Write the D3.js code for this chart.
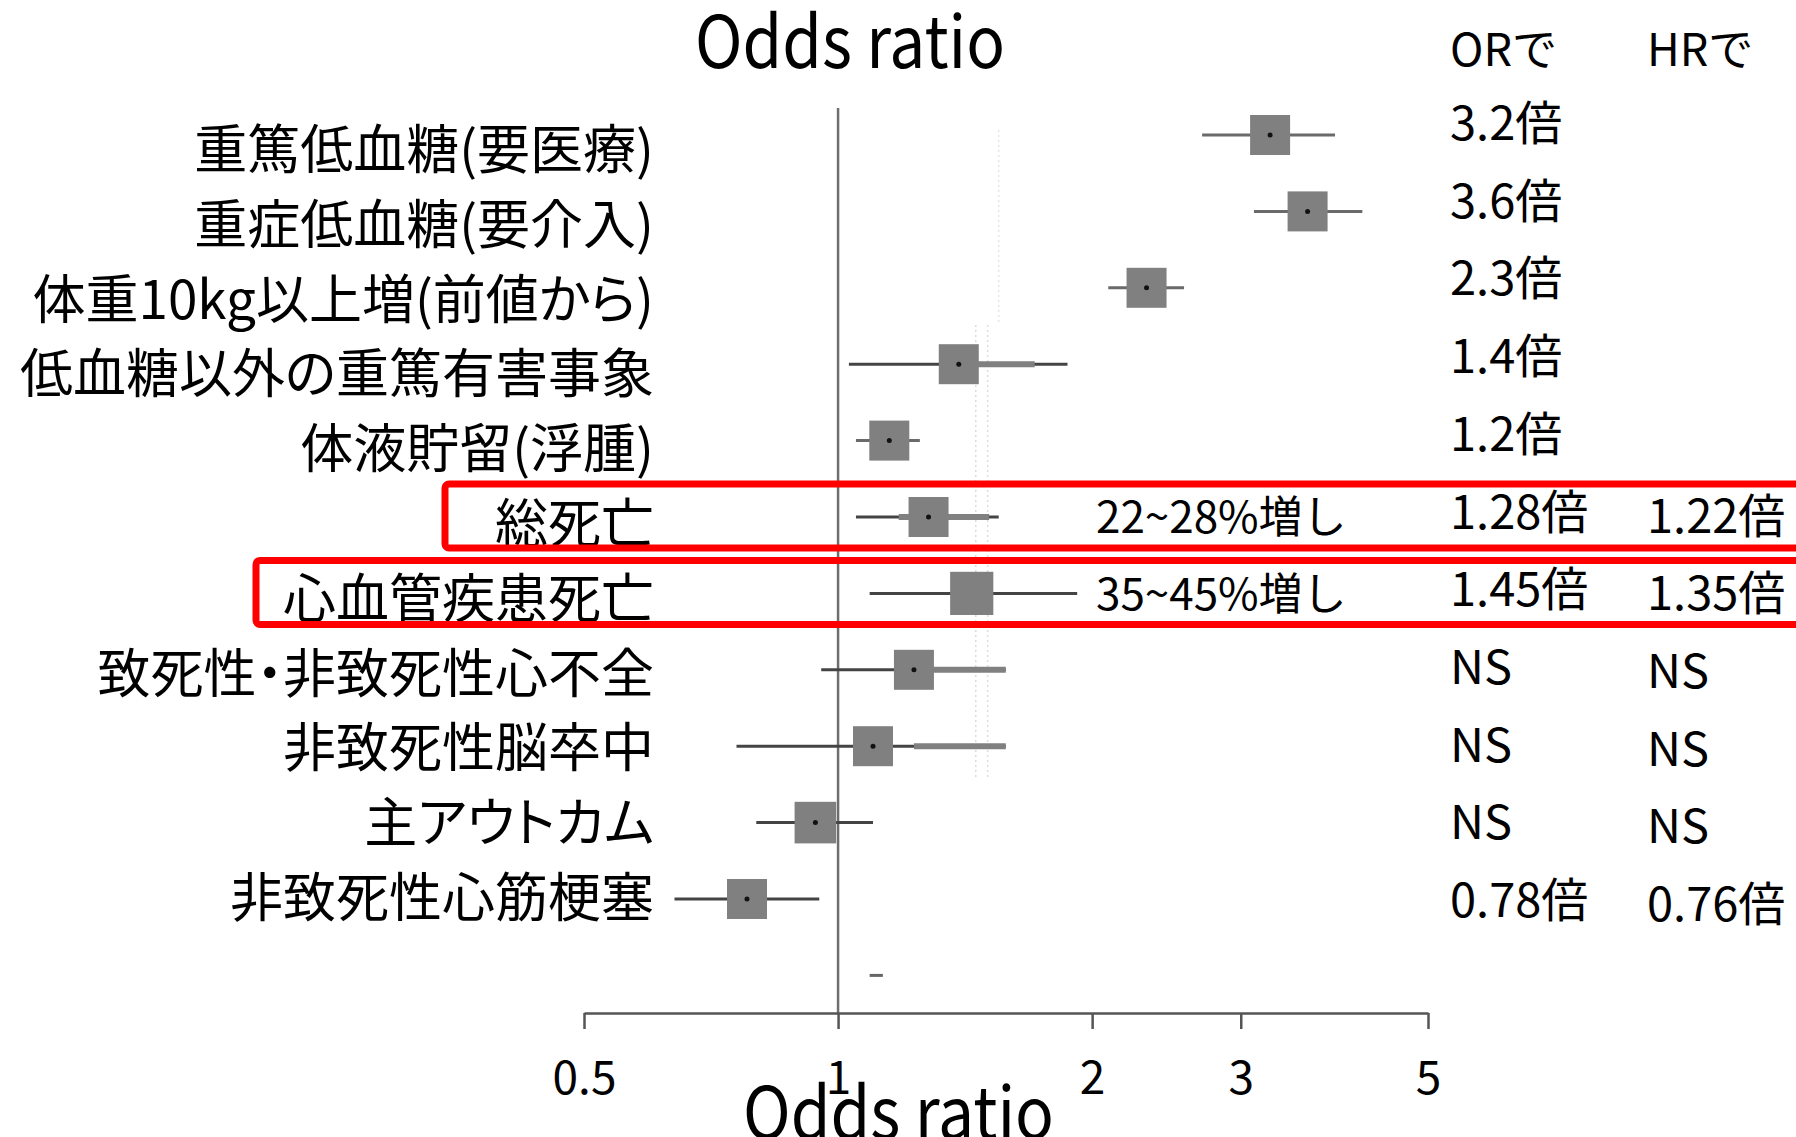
<!DOCTYPE html>
<html><head><meta charset="utf-8">
<script src="https://cdn.jsdelivr.net/npm/d3@7"></script>
<style>
html,body{margin:0;padding:0;background:#fff;}
svg{display:block;}
text{font-family:"Noto Sans CJK JP","Noto Sans",sans-serif;fill:#000;}
</style></head><body>
<svg id="chart" width="1796" height="1137"></svg>
<script>
// ---- data ----
const labels = ["重篤低血糖(要医療)","重症低血糖(要介入)","体重10kg以上増(前値から)","低血糖以外の重篤有害事象","体液貯留(浮腫)","総死亡","心血管疾患死亡","致死性・非致死性心不全","非致死性脳卒中","主アウトカム","非致死性心筋梗塞"];
const estimate = [3.25, 3.60, 2.32, 1.39, 1.15, 1.28, 1.44, 1.23, 1.10, 0.94, 0.78];
const lower    = [2.70, 3.11, 2.09, 1.03, 1.05, 1.05, 1.09, 0.955, 0.758, 0.80, 0.64];
const upper    = [3.88, 4.18, 2.57, 1.87, 1.25, 1.55, 1.92, 1.58, 1.58, 1.10, 0.95];
const greyLo   = [null, null, null, 1.39, null, 1.18, null, 1.23, 1.23, null, null];
const greyHi   = [null, null, null, 1.71, null, 1.51, null, 1.58, 1.58, null, null];
const boxWeight = [1, 1, 1, 1, 1, 1, 1.08, 1, 1, 1.04, 1];
const orText = ["3.2倍","3.6倍","2.3倍","1.4倍","1.2倍","1.28倍","1.45倍","NS","NS","NS","0.78倍"];
const hrText = ["","","","","","1.22倍","1.35倍","NS","NS","NS","0.76倍"];
const rangeText = ["","","","","","22~28%増し","35~45%増し","","","",""];
const highlighted = ["総死亡","心血管疾患死亡"];
const strayMark = [1.09, 1.13];          // small unlabeled segment below last row
const dottedRefs = [1.456, 1.504];       // faint dotted reference lines
const tickValues = [0.5, 1, 2, 3, 5];
const titleText = "Odds ratio";
const colHeaders = ["ORで","HRで"];

// ---- layout ----
const svg = d3.select("#chart");
const x = d3.scaleLog().domain([0.5, 5]).range([584, 1428]);
const rowIdx = d3.range(labels.length + 1);
const yMark = d3.scalePoint().domain(rowIdx).range([135, 135 + 11 * 76.4]);
const yLab = d3.scalePoint().domain(d3.range(labels.length)).range([169, 169 + 10 * 74.8]);
const yVal = d3.scalePoint().domain(d3.range(labels.length)).range([140, 140 + 10 * 77.7]);
const axisY = 1013;

// faint dotted lines
svg.append("g").selectAll("line").data(dottedRefs).join("line")
  .attr("x1", d => x(d)).attr("x2", d => x(d))
  .attr("y1", 325).attr("y2", 777)
  .attr("stroke", "#dcdcdc").attr("stroke-width", 1.5).attr("stroke-dasharray", "2,3");
svg.append("line").attr("x1", x(1.55)).attr("x2", x(1.55)).attr("y1", 130).attr("y2", 323)
  .attr("stroke", "#e6e6e6").attr("stroke-width", 1.5).attr("stroke-dasharray", "2,3");

// reference line at 1
svg.append("line").attr("x1", x(1)).attr("x2", x(1)).attr("y1", 108).attr("y2", axisY)
  .attr("stroke", "#6e6e6e").attr("stroke-width", 2.5);

// axis
const axis = d3.axisBottom(x).tickValues(tickValues).tickFormat(d => String(d)).tickSize(16).tickSizeOuter(0).tickPadding(32);
const ga = svg.append("g").attr("transform", `translate(0,${axisY})`).call(axis);
ga.select(".domain").attr("stroke", "#555").attr("stroke-width", 2.5);
ga.selectAll(".tick line").attr("stroke", "#555").attr("stroke-width", 2.5);
ga.selectAll(".tick text").attr("font-size", 46).attr("font-family", "'Noto Sans CJK JP',sans-serif").attr("fill", "#000");

// rows
const rows = svg.append("g").selectAll("g").data(labels).join("g");
rows.append("line")
  .attr("x1", (d, i) => x(lower[i])).attr("x2", (d, i) => x(upper[i]))
  .attr("y1", (d, i) => yMark(i)).attr("y2", (d, i) => yMark(i))
  .attr("stroke", (d, i) => i < 3 || i === 4 ? "#6a6a6a" : "#444").attr("stroke-width", 3);
rows.filter((d, i) => greyLo[i] != null).append("line")
  .attr("x1", d => x(greyLo[labels.indexOf(d)])).attr("x2", d => x(greyHi[labels.indexOf(d)]))
  .attr("y1", d => yMark(labels.indexOf(d))).attr("y2", d => yMark(labels.indexOf(d)))
  .attr("stroke", "#808080").attr("stroke-width", 6);
rows.append("rect")
  .attr("x", (d, i) => x(estimate[i]) - 20 * boxWeight[i])
  .attr("y", (d, i) => yMark(i) - 20 * boxWeight[i])
  .attr("width", (d, i) => 40 * boxWeight[i]).attr("height", (d, i) => 40 * boxWeight[i])
  .attr("fill", "#808080");
rows.filter((d, i) => i !== 6).append("circle")
  .attr("cx", d => x(estimate[labels.indexOf(d)])).attr("cy", d => yMark(labels.indexOf(d)))
  .attr("r", 2.5).attr("fill", "#111");

// stray mark
svg.append("line").attr("x1", x(strayMark[0])).attr("x2", x(strayMark[1]))
  .attr("y1", yMark(11)).attr("y2", yMark(11)).attr("stroke", "#666").attr("stroke-width", 3);

// labels
svg.append("g").selectAll("text").data(labels).join("text")
  .attr("x", 654).attr("y", (d, i) => yLab(i))
  .attr("text-anchor", "end").attr("font-size", 53)
  .style("font-feature-settings", "'palt'")
  .text(d => d);

// value columns
svg.append("g").selectAll("text").data(orText).join("text")
  .attr("x", 1450).attr("y", (d, i) => yVal(i)).attr("font-size", 47).text(d => d);
svg.append("g").selectAll("text").data(hrText).join("text")
  .attr("x", 1647).attr("y", (d, i) => yVal(i) + 4).attr("font-size", 47).text(d => d);
svg.append("g").selectAll("text").data(rangeText).join("text")
  .attr("x", 1096).attr("y", (d, i) => yVal(i) + 4).attr("font-size", 44).text(d => d);

// headers
svg.append("text").attr("x", 1450).attr("y", 66).attr("font-size", 45).text(colHeaders[0]);
svg.append("text").attr("x", 1647).attr("y", 66).attr("font-size", 45).text(colHeaders[1]);

// titles
svg.append("text").attr("x", 695).attr("y", 68).attr("font-size", 72)
  .attr("textLength", 310).attr("lengthAdjust", "spacingAndGlyphs").text(titleText);
svg.append("text").attr("x", 743).attr("y", 1139).attr("font-size", 72)
  .attr("textLength", 311).attr("lengthAdjust", "spacingAndGlyphs").text(titleText);

// highlight boxes
const boxLeft = {"総死亡": 445, "心血管疾患死亡": 256};
svg.append("g").selectAll("rect").data(highlighted).join("rect")
  .attr("x", d => boxLeft[d])
  .attr("y", d => yMark(labels.indexOf(d)) - 33)
  .attr("width", d => 1900 - boxLeft[d]).attr("height", 64)
  .attr("rx", 4).attr("fill", "none").attr("stroke", "#ff0000").attr("stroke-width", 7);
</script>
</body></html>
